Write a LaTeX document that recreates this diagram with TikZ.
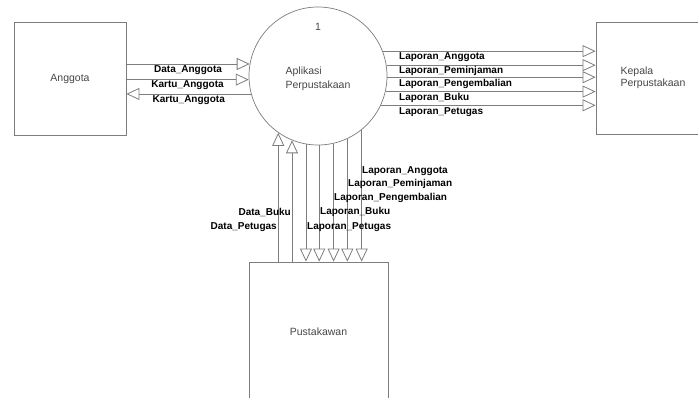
\documentclass[tikz,border=0pt]{standalone}
\usepackage{fontspec}
\setmainfont{Liberation Sans}
\usetikzlibrary{positioning,arrows.meta,calc}
\definecolor{LineGray}{RGB}{125,125,125}
\definecolor{NameGray}{RGB}{70,70,70}

\begin{document}
\begin{tikzpicture}[x=1pt,y=-1pt,
  entity/.style={draw=LineGray,line width=0.8pt,inner sep=0pt,align=left,text=NameGray,font=\fontsize{10.5}{12.5}\selectfont},
  proc/.style={draw=LineGray,line width=0.7pt,circle,minimum size=138pt,inner sep=0pt},
  flow/.style={draw=LineGray,line width=0.8pt,-{Triangle[open,length=13pt,width=12pt]}},
  lbl/.style={font=\bfseries\fontsize{10}{12}\selectfont,inner sep=1pt}]
\useasboundingbox (0,0) rectangle (698,398);

% entities and process
\node[entity,minimum width=112pt,minimum height=113pt] (anggota) at (70,78.5) {Anggota};
\node[entity,minimum width=114pt,minimum height=112pt] (kepala) at (653,78) {Kepala\\Perpustakaan};
\node[entity,minimum width=139pt,minimum height=140pt] (pustakawan) at (318.5,332) {Pustakawan};
\node[proc] (app) at (318,76) {};
\node[text=NameGray,font=\fontsize{10.5}{12.5}\selectfont] (appno) at (318,27) {1};
\node[text=NameGray,align=left,font=\fontsize{10.5}{13.5}\selectfont] (appname) at (318,79) {Aplikasi\\Perpustakaan};

% Anggota <-> Aplikasi
\draw[flow] (app.170.8 -| anggota.east) -- (app.170.8) node[lbl,midway,below]{Data\_Anggota};
\draw[flow] (app.-177.5 -| anggota.east) -- (app.-177.5) node[lbl,midway,below]{Kartu\_Anggota};
\draw[flow] (app.-165.7) -- (app.-165.7 -| anggota.east) node[lbl,midway,below]{Kartu\_Anggota};

% Aplikasi -> Kepala Perpustakaan
\draw[flow] (app.21.2) -- (app.21.2 -| kepala.west);
\draw[flow] (app.9.2) -- (app.9.2 -| kepala.west);
\draw[flow] (app.-1.7) -- (app.-1.7 -| kepala.west);
\draw[flow] (app.-13.4) -- (app.-13.4 -| kepala.west);
\draw[flow] (app.-25.8) -- (app.-25.8 -| kepala.west);
\node[lbl,anchor=north west] (lapk1) at (398,51) {Laporan\_Anggota};
\node[lbl,anchor=north west] (lapk2) at (398,65) {Laporan\_Peminjaman};
\node[lbl,anchor=north west] (lapk3) at (398,78) {Laporan\_Pengembalian};
\node[lbl,anchor=north west] (lapk4) at (398,92) {Laporan\_Buku};
\node[lbl,anchor=north west] (lapk5) at (398,106) {Laporan\_Petugas};

% Pustakawan <-> Aplikasi
\draw[flow] (app.-125.4 |- pustakawan.north) -- (app.-125.4);
\draw[flow] (app.-112.1 |- pustakawan.north) -- (app.-112.1);
\draw[flow] (app.-100) -- (app.-100 |- pustakawan.north);
\draw[flow] (app.-89.2) -- (app.-89.2 |- pustakawan.north);
\draw[flow] (app.-77.4) -- (app.-77.4 |- pustakawan.north);
\draw[flow] (app.-65.15) -- (app.-65.15 |- pustakawan.north);
\draw[flow] (app.-51.45) -- (app.-51.45 |- pustakawan.north);
\node[lbl,anchor=east] (datab) at (292,212) {Data\_Buku};
\node[lbl,anchor=east] (datap) at (278,227) {Data\_Petugas};
\node[lbl,anchor=west] (lapp1) at (361,171) {Laporan\_Anggota};
\node[lbl,anchor=west] (lapp2) at (347,184) {Laporan\_Peminjaman};
\node[lbl,anchor=west] (lapp3) at (333,198) {Laporan\_Pengembalian};
\node[lbl,anchor=west] (lapp4) at (319,212) {Laporan\_Buku};
\node[lbl,anchor=west] (lapp5) at (306,227) {Laporan\_Petugas};
\end{tikzpicture}
\end{document}
